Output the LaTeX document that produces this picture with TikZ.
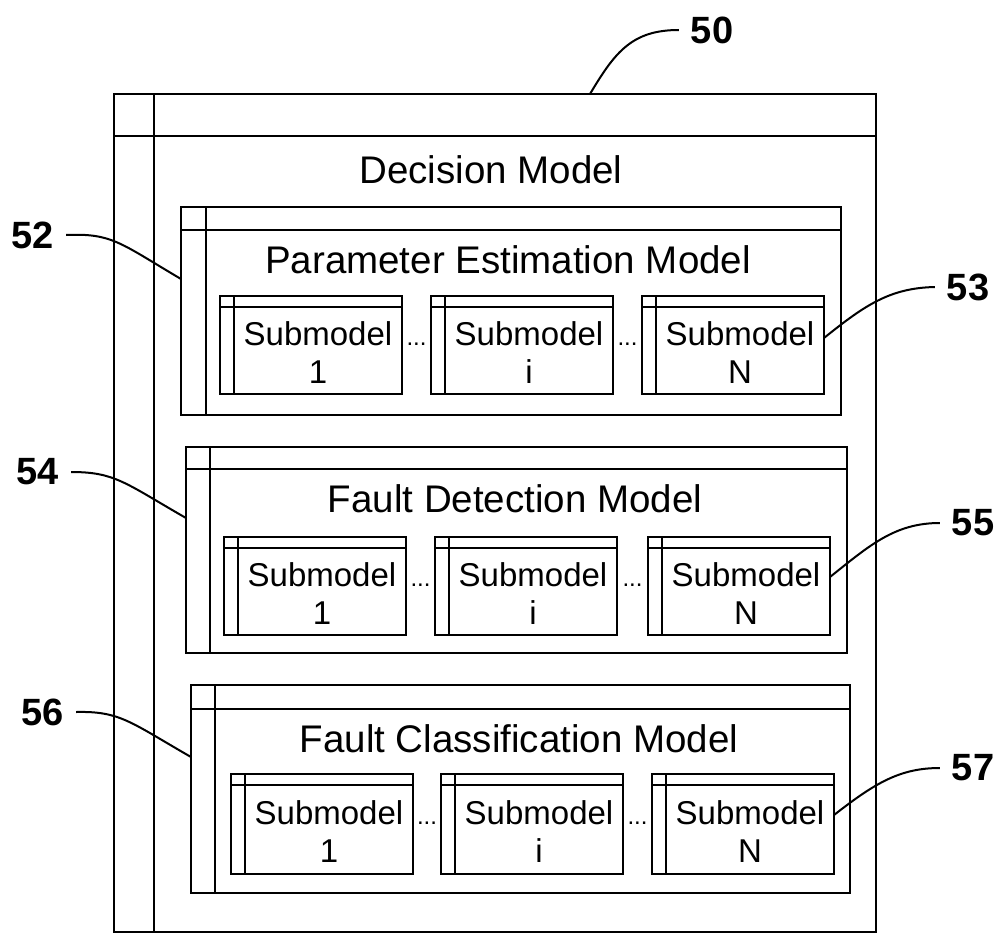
\documentclass[tikz,border=0pt]{standalone}
\usepackage{fontspec}
\setmainfont{Liberation Sans}
\usetikzlibrary{calc}
\tikzset{
  umlbox/.style={draw=black, line width=2.8pt, rectangle, inner sep=0pt, outer sep=0pt, fill=none},
  boxline/.style={draw=black, line width=2.8pt},
  title/.style={inner sep=0pt, anchor=base, font=\fontsize{38.5}{40}\selectfont},
  subtxt/.style={inner sep=0pt, anchor=base, font=\fontsize{33}{38}\selectfont},
  dots/.style={inner sep=0pt, anchor=base, font=\fontsize{24}{26}\selectfont},
  reflabel/.style={inner sep=2pt, outer sep=10pt, font=\bfseries\fontsize{38}{40}\selectfont},
  leader/.style={draw=black, line width=2pt}
}
% name, x, y, w, h, dv, dh
\newcommand\umlframe[7]{%
  \node[umlbox, minimum width=#4pt, minimum height=#5pt, anchor=north west] (#1) at (#2,#3) {};
  \draw[boxline] ([xshift=#6pt]#1.north west) -- ([xshift=#6pt]#1.south west);
  \draw[boxline] ([yshift=-#7pt]#1.north west) -- ([yshift=-#7pt]#1.north east);
}
% name, x, y, h, second-line text
\newcommand\submodelbox[5]{%
  \umlframe{#1}{#2}{#3}{182}{#4}{14}{11}
  \node[subtxt] (#1-a) at ($(#1.center)+(7,0)$) {Submodel};
  \node[subtxt] (#1-b) at ($(#1.center)+(7,38)$) {#5};
}
\begin{document}
\begin{tikzpicture}[x=1pt,y=-1pt]
\useasboundingbox (0,0) rectangle (1006,939);

% outer decision model
\umlframe{dm}{114}{94}{762}{838}{40}{42}
\node[title] (dmt) at (491,183) {Decision Model};

% parameter estimation
\umlframe{pe}{181}{207}{660}{208}{25}{23}
\node[title] (pet) at (508,273) {Parameter Estimation Model};
\submodelbox{pe1}{220}{296}{98}{1}
\submodelbox{pe2}{431}{296}{98}{i}
\submodelbox{pe3}{642}{296}{98}{N}
\node[dots] (ped1) at ($(pe1.east)!0.5!(pe2.west)$) {...};
\node[dots] (ped2) at ($(pe2.east)!0.5!(pe3.west)$) {...};

% fault detection
\umlframe{fd}{186}{447}{661}{206}{24}{22}
\node[title] (fdt) at (515,512) {Fault Detection Model};
\submodelbox{fd1}{224}{537}{98}{1}
\submodelbox{fd2}{435}{537}{98}{i}
\submodelbox{fd3}{648}{537}{98}{N}
\node[dots] (fdd1) at ($(fd1.east)!0.5!(fd2.west)$) {...};
\node[dots] (fdd2) at ($(fd2.east)!0.5!(fd3.west)$) {...};

% fault classification
\umlframe{fc}{191}{685}{659}{208}{24}{24}
\node[title] (fct) at (519,752) {Fault Classification Model};
\submodelbox{fc1}{231}{774}{100}{1}
\submodelbox{fc2}{441}{774}{100}{i}
\submodelbox{fc3}{652}{774}{100}{N}
\node[dots] (fcd1) at ($(fc1.east)!0.5!(fc2.west)$) {...};
\node[dots] (fcd2) at ($(fc2.east)!0.5!(fc3.west)$) {...};

% reference labels
\node[reflabel] (l50) at (712,30) {50};
\node[reflabel] (l52) at (33,235) {52};
\node[reflabel] (l53) at (968,287) {53};
\node[reflabel] (l54) at (38,472) {54};
\node[reflabel] (l55) at (973,523) {55};
\node[reflabel] (l56) at (43,712) {56};
\node[reflabel] (l57) at (973,768) {57};

% leader end points
\coordinate (c50) at ($(dm.north west)+(476,0)$);
\coordinate (c52) at ($(pe.north west)+(0,72)$);
\coordinate (c54) at ($(fd.north west)+(0,71)$);
\coordinate (c56) at ($(fc.north west)+(0,72)$);
\coordinate (c53) at ($(pe3.north east)+(0,42)$);
\coordinate (c55) at ($(fd3.north east)+(0,40)$);
\coordinate (c57) at ($(fc3.north east)+(0,41)$);

\draw[leader] (l50.west) .. controls (632,30) and (615,52) .. (c50);
\draw[leader] (l52.east) .. controls (112,233) and (120,243) .. (c52);
\draw[leader] (l54.east) .. controls (115,472) and (125,483) .. (c54);
\draw[leader] (l56.east) .. controls (120,711) and (130,722) .. (c56);
\draw[leader] (c53) .. controls (865,305) and (890,288) .. (l53.west);
\draw[leader] (c55) .. controls (870,545) and (895,523) .. (l55.west);
\draw[leader] (c57) .. controls (875,783) and (900,768) .. (l57.west);
\end{tikzpicture}
\end{document}
